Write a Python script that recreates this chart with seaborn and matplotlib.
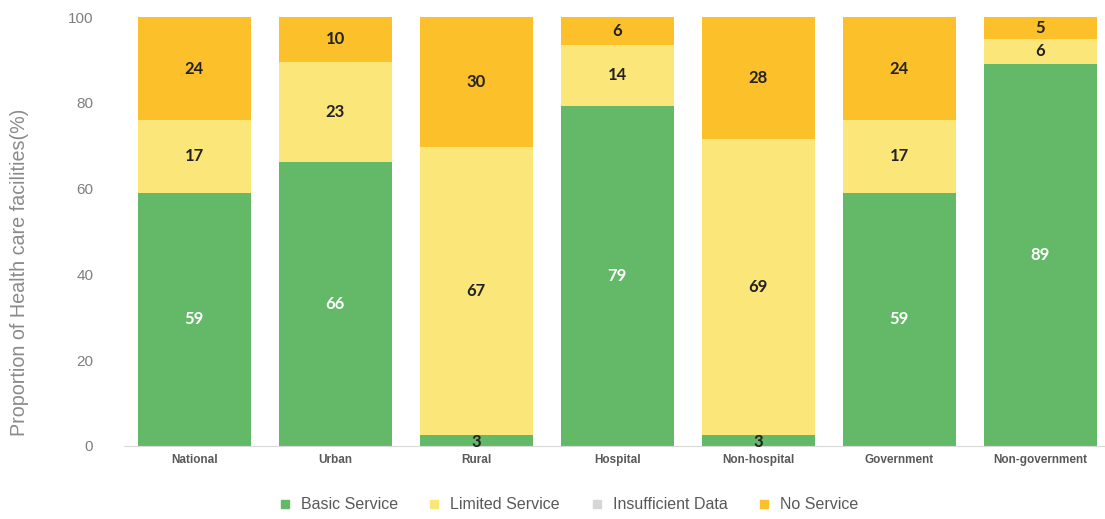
import numpy as np
import pandas as pd
import seaborn as sns
import matplotlib.pyplot as plt
from matplotlib.lines import Line2D

categories = ['National', 'Urban', 'Rural', 'Hospital', 'Non-hospital', 'Government', 'Non-government']
basic = [59, 66.2, 2.6, 79.2, 2.6, 59, 89]
limited = [17, 23.4, 67.0, 14.4, 69.0, 17, 6]
insufficient = [0, 0, 0, 0, 0, 0, 0]
no_service = [24, 10.4, 30.4, 6.4, 28.4, 24, 5]

series = ['Basic Service', 'Limited Service', 'Insufficient Data', 'No Service']
colors = ['#63b967', '#fbe67a', '#d6d6d6', '#fbc02a']

df = pd.DataFrame({'category': categories, 'basic': basic, 'limited': limited,
                   'insufficient': insufficient, 'no': no_service})
df['top_limited'] = df['basic'] + df['limited']
df['top_insuf'] = df['top_limited'] + df['insufficient']
df['top_no'] = df['top_insuf'] + df['no']

sns.set_style('white')
plt.rcParams['font.family'] = ['Liberation Sans', 'DejaVu Sans']

fig = plt.figure(figsize=(11.05, 5.19), dpi=100)
ax = fig.add_axes([0.112, 0.141, 0.888, 0.826])

# layered bars, tallest first
for col, c in [('top_no', colors[3]), ('top_insuf', colors[2]), ('top_limited', colors[1]), ('basic', colors[0])]:
    sns.barplot(data=df, x='category', y=col, color=c, width=0.8, saturation=1, ax=ax, linewidth=0)

lab_font = dict(family=['Lato', 'DejaVu Sans'], fontsize=12, fontweight='bold', ha='center', va='center')
for i, row in df.iterrows():
    b = row['basic']
    if b < 5:
        ax.text(i, 1.0, f'{round(b)}', color='#222222', **lab_font)
    else:
        ax.text(i, b / 2, f'{round(b)}', color='white', **lab_font)
    ax.text(i, b + row['limited'] / 2, f'{round(row["limited"])}', color='#222222', **lab_font)
    ax.text(i, row['top_insuf'] + row['no'] / 2, f'{round(row["no"])}', color='#222222', **lab_font)

ax.set_ylim(0, 100)
ax.set_xlim(-0.5, 6.46)
ax.set_yticks([0, 20, 40, 60, 80, 100])
ax.tick_params(axis='y', labelsize=11, labelcolor='#7f7f7f', length=0, pad=22)
ax.tick_params(axis='x', labelsize=8.5, labelcolor='#595959', length=0, pad=6)
for t in ax.get_xticklabels():
    t.set_fontweight('bold')
ax.set_xlabel('')
ax.set_ylabel('Proportion of Health care facilities(%)', fontsize=14.2, color='#8a8a8a')
ax.yaxis.set_label_coords(-0.097, 0.405)

sns.despine(ax=ax, left=True, top=True, right=True)
ax.spines['bottom'].set_color('#d9d9d9')

handles = [Line2D([], [], marker='s', linestyle='', markersize=6, color=c) for c in colors]
fig.legend(handles, series, loc='center', bbox_to_anchor=(0.51, 0.027), ncol=4, frameon=False,
           fontsize=11.5, labelcolor='#595959', handletextpad=0.0, columnspacing=1.3)

fig.savefig('out.png', dpi=100)
